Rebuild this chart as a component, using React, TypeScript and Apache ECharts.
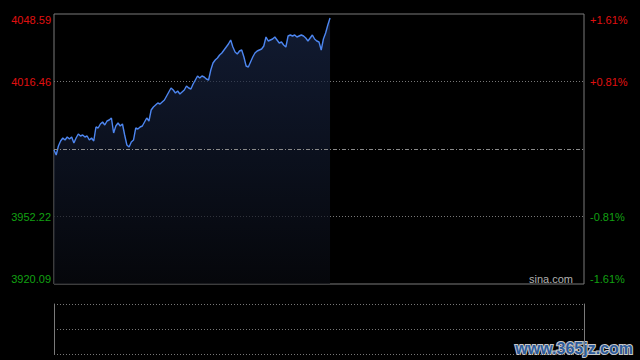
import React, { useEffect, useRef } from "react";
import * as echarts from "echarts";

// Price axis bounds (previous close in the middle)
const yMin = 3920.09;
const yMax = 4048.59;
const yInterval = (yMax - yMin) / 4;
const leftTickLabels = ["3920.09", "3952.22", "", "4016.46", "4048.59"];
const rightTickLabels = ["-1.61%", "-0.81%", "", "+0.81%", "+1.61%"];
const tickColors = ["#12a012", "#12a012", "#888888", "#e01010", "#e01010"];

// Intraday index values (one per minute, morning session + first minutes after noon)
const prices = [
  3983.86, 3981.48, 3985.77, 3988.15, 3989.57, 3988.62, 3990.05, 3989.1, 3990.05, 3987.2,
  3989.57, 3991.48, 3990.53, 3991.0, 3990.05, 3990.53, 3988.62, 3989.57, 3988.15, 3994.81,
  3994.33, 3996.24, 3997.19, 3995.76, 3997.67, 3998.14, 3999.09, 3991.95, 3995.29, 3996.71,
  3995.29, 3996.24, 3991.0, 3986.24, 3985.29, 3987.67, 3988.62, 3994.33, 3993.86, 3994.81,
  3995.29, 3997.19, 3999.09, 3997.67, 4002.9, 4004.33, 4005.28, 4006.23, 4005.76, 4006.71,
  4007.66, 4009.56, 4011.47, 4013.37, 4012.42, 4010.99, 4011.94, 4010.52, 4011.47, 4012.42,
  4014.32, 4013.37, 4012.9, 4015.27, 4017.18, 4019.08, 4018.13, 4019.08, 4018.61, 4017.65,
  4017.18, 4021.94, 4025.27, 4026.7, 4027.65, 4029.08, 4030.03, 4031.46, 4032.88, 4034.31,
  4036.22, 4032.88, 4030.5, 4029.55, 4030.98, 4031.46, 4028.13, 4023.84, 4023.37, 4025.75,
  4028.13, 4030.03, 4030.98, 4031.46, 4031.93, 4033.36, 4037.64, 4035.74, 4036.22, 4036.69,
  4037.64, 4036.22, 4034.79, 4035.26, 4033.84, 4032.88, 4038.12, 4038.6, 4038.12, 4038.6,
  4037.64, 4038.12, 4038.6, 4038.12, 4037.17, 4035.74, 4037.17, 4038.6, 4036.69, 4035.74,
  4035.26, 4031.46, 4036.69, 4039.55, 4043.35, 4046.69,
];

// Trading minutes: 09:30-11:30 and 13:01-15:00 (241 slots)
const minutes: string[] = [];
for (let m = 9 * 60 + 30; m <= 11 * 60 + 30; m++) {
  minutes.push(`${String(Math.floor(m / 60)).padStart(2, "0")}:${String(m % 60).padStart(2, "0")}`);
}
for (let m = 13 * 60 + 1; m <= 15 * 60; m++) {
  minutes.push(`${String(Math.floor(m / 60)).padStart(2, "0")}:${String(m % 60).padStart(2, "0")}`);
}

const FONT = 'Arial, "Liberation Sans", sans-serif';

export default function App() {
  const ref = useRef<HTMLDivElement>(null);
  useEffect(() => {
    if (!ref.current) return;
    const chart = echarts.init(ref.current, undefined, { renderer: "svg" });
    const grayLine = "#7a7a7a";
    chart.setOption({
      animation: false,
      backgroundColor: "#000000",
      grid: [
        { left: 54, top: 14, width: 530, height: 270, show: true, borderColor: grayLine, borderWidth: 1, backgroundColor: "transparent" },
        { left: 54, top: 304, width: 530, height: 50, show: false },
      ],
      xAxis: [
        { type: "category", gridIndex: 0, data: minutes, boundaryGap: false, show: false },
        { type: "category", gridIndex: 1, data: minutes, boundaryGap: false, show: false },
      ],
      yAxis: [
        {
          type: "value", gridIndex: 0, position: "left", min: yMin, max: yMax, interval: yInterval,
          axisLine: { show: false }, axisTick: { show: false },
          axisLabel: {
            margin: 3, fontSize: 11, fontFamily: FONT,
            formatter: (_v: number, i: number) => leftTickLabels[i] ?? "",
            color: (_v: any, i: number) => tickColors[i] ?? "#888",
            verticalAlignMinLabel: "bottom", verticalAlignMaxLabel: "top",
          },
          splitLine: {
            show: true, showMinLine: false, showMaxLine: false,
            lineStyle: { color: "#777", width: 1, type: [1, 2] },
          },
        },
        {
          type: "value", gridIndex: 0, position: "right", min: yMin, max: yMax, interval: yInterval,
          axisLine: { show: false }, axisTick: { show: false },
          axisLabel: {
            margin: 6, fontSize: 11, fontFamily: FONT,
            formatter: (_v: number, i: number) => rightTickLabels[i] ?? "",
            color: (_v: any, i: number) => tickColors[i] ?? "#888",
            verticalAlignMinLabel: "bottom", verticalAlignMaxLabel: "top",
          },
          splitLine: { show: false },
        },
        {
          type: "value", gridIndex: 1, position: "left", min: 0, max: 2, interval: 1,
          axisLine: { show: true, lineStyle: { color: grayLine, width: 1 } },
          axisTick: { show: false }, axisLabel: { show: false },
          splitLine: { show: true, lineStyle: { color: "#777", width: 1, type: [1, 2] } },
        },
        {
          type: "value", gridIndex: 1, position: "right", min: 0, max: 2, interval: 1,
          axisLine: { show: true, lineStyle: { color: grayLine, width: 1 } },
          axisTick: { show: false }, axisLabel: { show: false }, splitLine: { show: false },
        },
      ],
      series: [
        {
          type: "line",
          xAxisIndex: 0, yAxisIndex: 0,
          data: prices,
          showSymbol: false,
          symbol: "none",
          lineStyle: { color: "#4d86f0", width: 1.4 },
          areaStyle: {
            origin: "start",
            color: new echarts.graphic.LinearGradient(0, 0, 0, 1, [
              { offset: 0, color: "rgba(26,40,74,0.95)" },
              { offset: 1, color: "rgba(8,10,16,0.95)" },
            ]),
          },
          markLine: {
            silent: true,
            symbol: "none",
            label: { show: false },
            lineStyle: { color: "#8a8a8a", width: 1, type: [4, 2, 1, 2] },
            data: [{ yAxis: (yMin + yMax) / 2 }],
          },
        },
      ],
      graphic: [
        {
          type: "text", right: 640 - 573, top: 273,
          style: { text: "sina.com", fill: "#b0b0b0", fontSize: 11, fontFamily: FONT },
        },
        {
          type: "text", right: 6, top: 339,
          style: {
            text: "www.365jz.com", fill: "#2d5c9c", stroke: "#c8c8c8", lineWidth: 2,
            fontSize: 16, fontWeight: "bold", fontFamily: FONT,
          },
        },
      ],
    });
    return () => chart.dispose();
  }, []);
  return (
    <div
      ref={ref}
      style={{ position: "fixed", left: 0, top: 0, width: 640, height: 360, background: "#000" }}
    />
  );
}
